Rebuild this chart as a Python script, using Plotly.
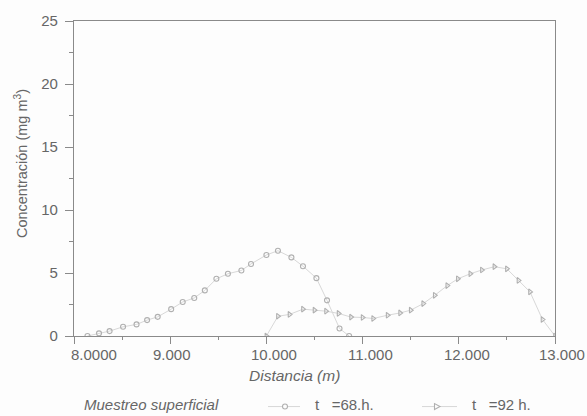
import plotly.graph_objects as go

# Surface sampling: concentration profiles along the distance axis
dist_68h = [8.14, 8.26, 8.37, 8.51, 8.65, 8.76, 8.87, 9.01, 9.13, 9.25, 9.36,
            9.48, 9.60, 9.74, 9.84, 10.00, 10.12, 10.26, 10.38, 10.52, 10.63,
            10.76, 10.86]
conc_68h = [0.0, 0.21, 0.39, 0.73, 0.92, 1.26, 1.52, 2.13, 2.70, 3.02, 3.62,
            4.54, 4.94, 5.20, 5.72, 6.43, 6.77, 6.24, 5.54, 4.59, 2.83,
            0.60, 0.0]

dist_92h = [10.00, 10.12, 10.24, 10.38, 10.50, 10.62, 10.75, 10.88, 11.00,
            11.11, 11.26, 11.39, 11.50, 11.63, 11.75, 11.88, 11.99, 12.12,
            12.24, 12.37, 12.50, 12.62, 12.74, 12.87, 13.00]
conc_92h = [0.0, 1.57, 1.71, 2.13, 2.05, 1.97, 1.79, 1.50, 1.47,
            1.39, 1.65, 1.83, 2.05, 2.57, 3.23, 4.00, 4.54, 4.94,
            5.24, 5.50, 5.33, 4.41, 3.50, 1.31, 0.0]

x_tick_vals = [8, 9, 10, 11, 12, 13]
x_tick_text = ["8.0000", "9.000", "10.000", "11.000", "12.000", "13.000"]
x_tick_shift = [20, 2, 8, 8, 8, 7]
y_tick_vals = [0, 5, 10, 15, 20, 25]

series_names = ["t\u00a0\u00a0\u00a0=68.h.", "t\u00a0\u00a0\u00a0=92 h."]

TEXT = "#666666"
AXIS = "#8a8a8a"
LINE = "#d8d8d8"
MARK = "#b0b0b0"
BG = "#fdfdfd"
FONT = "Liberation Sans, Arial, sans-serif"

# plot area in pixels: left 74, right 555, top 19, bottom 336
L, R, T, B = 74, 555, 19, 336


def px(x):
    return (x - L) / (R - L)


def py(y):
    return (B - y) / (B - T)


fig = go.Figure()
fig.add_trace(go.Scatter(
    x=dist_68h, y=conc_68h, mode="lines+markers", name=series_names[0],
    line=dict(color=LINE, width=1),
    marker=dict(symbol="circle-open", size=5, color=MARK, line=dict(width=1.1)),
))
fig.add_trace(go.Scatter(
    x=dist_92h, y=conc_92h, mode="lines+markers", name=series_names[1],
    line=dict(color=LINE, width=1),
    marker=dict(symbol="triangle-right-open", size=5, color=MARK,
                line=dict(width=1.1)),
))

annotations = []
for v, t, s in zip(x_tick_vals, x_tick_text, x_tick_shift):
    annotations.append(dict(
        x=v, y=0, xref="x", yref="paper", text=t, showarrow=False,
        xanchor="center", yanchor="top", xshift=s, yshift=-8,
        font=dict(family=FONT, size=15, color=TEXT),
    ))
annotations += [
    dict(x=px(21), y=py(163), xref="paper", yref="paper",
         text="Concentración (mg m<sup>3</sup>)", textangle=-90,
         showarrow=False, xanchor="center", yanchor="middle",
         font=dict(family=FONT, size=14.5, color=TEXT)),
    dict(x=px(294), y=py(376), xref="paper", yref="paper",
         text="<i>Distancia (m)</i>", showarrow=False,
         xanchor="center", yanchor="middle",
         font=dict(family=FONT, size=15.5, color=TEXT)),
    dict(x=px(82), y=py(405), xref="paper", yref="paper",
         text="<i>Muestreo superficial</i>", showarrow=False,
         xanchor="left", yanchor="middle",
         font=dict(family=FONT, size=15, color=TEXT)),
    dict(x=px(313), y=py(405), xref="paper", yref="paper",
         text=series_names[0], showarrow=False,
         xanchor="left", yanchor="middle",
         font=dict(family=FONT, size=15, color=TEXT)),
    dict(x=px(470), y=py(405), xref="paper", yref="paper",
         text=series_names[1], showarrow=False,
         xanchor="left", yanchor="middle",
         font=dict(family=FONT, size=15, color=TEXT)),
]

# legend keys: line sample plus the series marker
shapes = [
    dict(type="line", xref="paper", yref="paper",
         x0=px(268), x1=px(300), y0=py(407), y1=py(407),
         line=dict(color=LINE, width=1)),
    dict(type="circle", xref="paper", yref="paper",
         xsizemode="pixel", ysizemode="pixel",
         xanchor=px(285), yanchor=py(407),
         x0=-2.5, x1=2.5, y0=-2.5, y1=2.5,
         line=dict(color=MARK, width=1.1), fillcolor=BG),
    dict(type="line", xref="paper", yref="paper",
         x0=px(422), x1=px(457), y0=py(407), y1=py(407),
         line=dict(color=LINE, width=1)),
    dict(type="path", xref="paper", yref="paper",
         xsizemode="pixel", ysizemode="pixel",
         xanchor=px(437), yanchor=py(407),
         path="M -2.5 -3 L 3 0 L -2.5 3 Z",
         line=dict(color=MARK, width=1.1), fillcolor=BG),
]

fig.update_layout(
    width=587, height=416,
    margin=dict(l=L, r=587 - R, t=T, b=416 - B),
    paper_bgcolor=BG, plot_bgcolor=BG,
    font=dict(family=FONT, size=15, color=TEXT),
    showlegend=False,
    xaxis=dict(
        range=[8, 13], showgrid=False, zeroline=False,
        showline=True, linecolor=AXIS, linewidth=1.2, mirror=True,
        tickvals=x_tick_vals, showticklabels=False,
        ticks="outside", ticklen=7, tickcolor=AXIS,
        minor=dict(dtick=0.5, ticks="outside", ticklen=3, tickcolor=AXIS),
    ),
    yaxis=dict(
        range=[0, 25], showgrid=False, zeroline=False,
        showline=True, linecolor=AXIS, linewidth=1.2, mirror=True,
        tickvals=y_tick_vals, ticks="outside", ticklen=8, tickcolor=AXIS,
        ticklabelstandoff=4,
        tickfont=dict(family=FONT, size=15, color=TEXT),
        minor=dict(dtick=2.5, ticks="outside", ticklen=4, tickcolor=AXIS),
    ),
    annotations=annotations,
    shapes=shapes,
)

fig.write_html("out.html")
